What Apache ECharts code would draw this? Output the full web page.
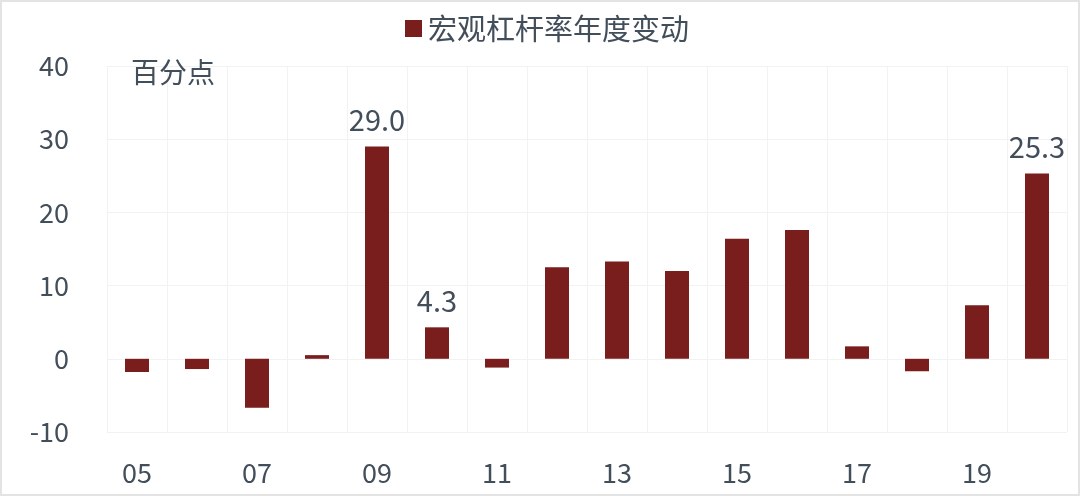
<!DOCTYPE html>
<html><head><meta charset="utf-8">
<style>html,body{margin:0;padding:0;background:#fff}#c{width:1080px;height:496px;box-sizing:border-box;border:2px solid #e3e3e3}</style>
<script src="https://cdn.jsdelivr.net/npm/echarts@6/dist/echarts.min.js"></script>
</head><body><div id="c"></div>
<script>
const categories = ['05','06','07','08','09','10','11','12','13','14','15','16','17','18','19','20'];
const values = [-1.8,-1.4,-6.7,0.5,29.0,4.3,-1.2,12.5,13.3,12.0,16.4,17.6,1.7,-1.7,7.3,25.3];
const labeledIdx = [4,5,15];
const seriesName = '宏观杠杆率年度变动';
const unitLabel = '百分点';
const font = '"Noto Sans CJK SC", "Noto Sans", sans-serif';
const textColor = '#434e5b';
const chart = echarts.init(document.getElementById('c'));
chart.setOption({
  animation:false,
  textStyle:{fontFamily:font},
  legend:{top:7,left:398,itemWidth:17,itemHeight:17,itemGap:8,icon:'rect',
    textStyle:{fontSize:29,color:textColor,fontFamily:font,padding:[0,0,0,1]},data:[seriesName]},
  grid:{left:105,right:11,top:64,bottom:62},
  xAxis:{type:'category',data:categories,
    axisLine:{show:false},axisTick:{show:false},
    axisLabel:{interval:1,fontSize:27,color:textColor,margin:27,fontFamily:font},
    splitLine:{show:true,interval:0,lineStyle:{color:'#f2f2f2'}}},
  yAxis:{type:'value',min:-10,max:40,interval:10,
    axisLine:{show:false},axisTick:{show:false},
    axisLabel:{fontSize:27,color:textColor,margin:38,fontFamily:font},
    splitLine:{lineStyle:{color:'#f2f2f2'}}},
  series:[{name:seriesName,type:'bar',barWidth:'40%',
    itemStyle:{color:'#791e1c'},
    data:values.map((v,i)=>({value:v,label:{show:labeledIdx.includes(i),position:'top',distance:12,
      formatter:(p)=>p.value.toFixed(1),fontSize:29,color:textColor,fontFamily:font}}))}],
  graphic:[{type:'text',left:129,top:56,z:100,style:{text:unitLabel,fontSize:28,fill:textColor,fontFamily:font}}]
});
</script></body></html>
